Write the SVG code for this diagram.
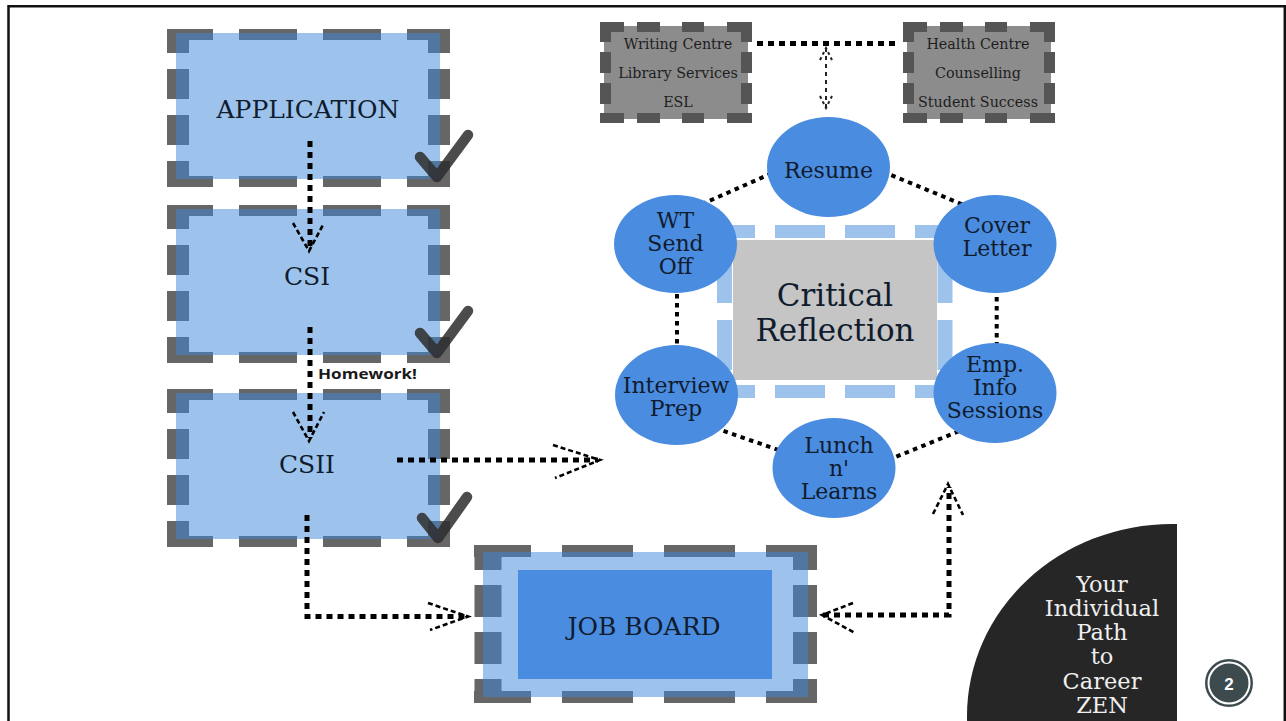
<svg xmlns="http://www.w3.org/2000/svg" width="1286" height="721" viewBox="0 0 1286 721">
<style>
.serif{font-family:"DejaVu Serif","Liberation Serif",serif;fill:#101c2e;text-anchor:middle}
.gtxt{font-family:"DejaVu Serif","Liberation Serif",serif;fill:#1e1e1e;text-anchor:middle;font-size:14.3px}
.dashg{stroke:#666666;fill:none}
.fillb{fill:#3b87d9;fill-opacity:0.5}
.gdash{stroke:#555555;fill:none}
.gfill{fill:#8c8c8c}
.circ{fill:#4a8ce0}
.ctext{font-size:22px}
.dot{stroke:#000;fill:none;stroke-width:5;stroke-dasharray:6 5}
.hdot{stroke:#000;fill:none;stroke-width:4;stroke-dasharray:4.5 4.5}
.head{stroke:#000;fill:none;stroke-width:2.6;stroke-dasharray:5 3}
.check{stroke:#2d2d2d;stroke-opacity:0.85;fill:none;stroke-width:10.5;stroke-linecap:round;stroke-linejoin:round}
.lbdash{stroke:#9dc3ec;fill:none}
.zen{font-family:"DejaVu Serif","Liberation Serif",serif;font-size:22.5px;fill:#efefef;text-anchor:middle}
</style>
<defs>
<clipPath id="clipR"><rect x="0" y="0" width="1177" height="721"/></clipPath>
</defs>
<rect width="1286" height="721" fill="#ffffff"/>
<path d="M8.5,721 V6.2 H1284.8 V721" fill="none" stroke="#111" stroke-width="2.5"/>

<g id="application">
<line class="dashg" x1="167" y1="34.5" x2="450" y2="34.5" stroke-width="11" stroke-dasharray="58 26" stroke-dashoffset="12"/>
<line class="dashg" x1="167" y1="181.5" x2="450" y2="181.5" stroke-width="11" stroke-dasharray="58 26" stroke-dashoffset="12"/>
<line class="dashg" x1="178" y1="29" x2="178" y2="187" stroke-width="22" stroke-dasharray="30 16" stroke-dashoffset="6"/>
<line class="dashg" x1="439" y1="29" x2="439" y2="187" stroke-width="22" stroke-dasharray="30 16" stroke-dashoffset="6"/>
<rect class="fillb" x="176" y="33" width="264" height="146"/>
<text class="serif" x="308" y="118" font-size="25">APPLICATION</text>
<polyline class="check" points="420,157 437,177 468,135"/>
</g>

<g id="csi">
<line class="dashg" x1="167" y1="210.5" x2="450" y2="210.5" stroke-width="11" stroke-dasharray="58 26" stroke-dashoffset="12"/>
<line class="dashg" x1="167" y1="357.5" x2="450" y2="357.5" stroke-width="11" stroke-dasharray="58 26" stroke-dashoffset="12"/>
<line class="dashg" x1="178" y1="205" x2="178" y2="363" stroke-width="22" stroke-dasharray="30 16" stroke-dashoffset="6"/>
<line class="dashg" x1="439" y1="205" x2="439" y2="363" stroke-width="22" stroke-dasharray="30 16" stroke-dashoffset="6"/>
<rect class="fillb" x="176" y="209" width="264" height="146"/>
<text class="serif" x="307" y="285" font-size="25">CSI</text>
<polyline class="check" points="420,333 437,353 468,311"/>
</g>

<g id="csii">
<line class="dashg" x1="167" y1="394.5" x2="450" y2="394.5" stroke-width="11" stroke-dasharray="58 26" stroke-dashoffset="12"/>
<line class="dashg" x1="167" y1="541.5" x2="450" y2="541.5" stroke-width="11" stroke-dasharray="58 26" stroke-dashoffset="12"/>
<line class="dashg" x1="178" y1="389" x2="178" y2="547" stroke-width="22" stroke-dasharray="30 16" stroke-dashoffset="6"/>
<line class="dashg" x1="439" y1="389" x2="439" y2="547" stroke-width="22" stroke-dasharray="30 16" stroke-dashoffset="6"/>
<rect class="fillb" x="176" y="393" width="264" height="146"/>
<text class="serif" x="307" y="473" font-size="25">CSII</text>
<polyline class="check" points="422,518 438,538 467,497"/>
</g>

<g id="job-board">
<line class="dashg" x1="474" y1="551" x2="817" y2="551" stroke-width="12" stroke-dasharray="71 31" stroke-dashoffset="14"/>
<line class="dashg" x1="474" y1="697" x2="817" y2="697" stroke-width="12" stroke-dasharray="71 31" stroke-dashoffset="14"/>
<line class="dashg" x1="488" y1="545" x2="488" y2="703" stroke-width="27" stroke-dasharray="32 15" stroke-dashoffset="7"/>
<line class="dashg" x1="805" y1="545" x2="805" y2="703" stroke-width="24" stroke-dasharray="32 15" stroke-dashoffset="7"/>
<rect class="fillb" x="483" y="552" width="325" height="145"/>
<rect x="518" y="570" width="254" height="109" fill="#4a8de0"/>
<text class="serif" x="644" y="635" font-size="25">JOB BOARD</text>
</g>

<g id="support-left">
<rect class="gfill" x="604" y="26" width="144" height="93"/>
<line class="gdash" x1="600" y1="27" x2="752" y2="27" stroke-width="10" stroke-dasharray="24 13 23 22 22 23 25"/>
<line class="gdash" x1="600" y1="118" x2="752" y2="118" stroke-width="10" stroke-dasharray="24 13 23 22 22 23 25"/>
<line class="gdash" x1="605.5" y1="22" x2="605.5" y2="123" stroke-width="11" stroke-dasharray="21 10" stroke-dashoffset="1"/>
<line class="gdash" x1="746.5" y1="22" x2="746.5" y2="123" stroke-width="11" stroke-dasharray="21 10" stroke-dashoffset="1"/>
<text class="gtxt" x="678" y="48.5">Writing Centre</text>
<text class="gtxt" x="678" y="78">Library Services</text>
<text class="gtxt" x="678" y="107">ESL</text>
</g>

<g id="support-right">
<rect class="gfill" x="907" y="26" width="144" height="93"/>
<line class="gdash" x1="903" y1="27" x2="1055" y2="27" stroke-width="10" stroke-dasharray="24 13 23 22 22 23 25"/>
<line class="gdash" x1="903" y1="118" x2="1055" y2="118" stroke-width="10" stroke-dasharray="24 13 23 22 22 23 25"/>
<line class="gdash" x1="908.5" y1="22" x2="908.5" y2="123" stroke-width="11" stroke-dasharray="21 10" stroke-dashoffset="1"/>
<line class="gdash" x1="1049.5" y1="22" x2="1049.5" y2="123" stroke-width="11" stroke-dasharray="21 10" stroke-dashoffset="1"/>
<text class="gtxt" x="978" y="48.5">Health Centre</text>
<text class="gtxt" x="978" y="78">Counselling</text>
<text class="gtxt" x="978" y="107">Student Success</text>
</g>

<g id="critical-reflection">
<line class="lbdash" x1="705" y1="231.5" x2="965" y2="231.5" stroke-width="13" stroke-dasharray="50 20"/>
<line class="lbdash" x1="705" y1="391.5" x2="965" y2="391.5" stroke-width="13" stroke-dasharray="50 20"/>
<line class="lbdash" x1="724.5" y1="236" x2="724.5" y2="386" stroke-width="15" stroke-dasharray="50 17" stroke-dashoffset="-17"/>
<line class="lbdash" x1="945" y1="236" x2="945" y2="386" stroke-width="15" stroke-dasharray="50 17" stroke-dashoffset="-17"/>
<rect x="733" y="240" width="204" height="140" fill="#c5c5c5"/>
<text class="serif" x="835" y="306" font-size="31">Critical</text>
<text class="serif" x="835" y="341" font-size="31">Reflection</text>
</g>

<g id="connectors">
<path class="dot" d="M310,141 V248"/>
<path class="head" d="M293,223 L309,251 L324,223"/>
<path class="dot" d="M310,327 V438"/>
<path class="head" d="M293,412 L309,441 L324,412"/>
<path class="dot" d="M307,515 V616.5 H466"/>
<path class="head" d="M428,603 L468,616.5 L430,630"/>
<path class="dot" d="M397,460 H598"/>
<path class="head" d="M553,445 L600,460 L555,478"/>
<path class="dot" d="M823,615 H949 V487"/>
<path class="head" d="M853,603 L822,615 L855,633"/>
<path class="head" d="M933,514 L948,484 L963,515"/>
<path class="dot" d="M757,43.5 H895" stroke-dasharray="7 4"/>
<path d="M826,48 V108" fill="none" stroke="#222" stroke-width="2" stroke-dasharray="4 4"/>
<path d="M820,60 L826,48 L832,60" fill="none" stroke="#222" stroke-width="2" stroke-dasharray="3 3"/>
<path d="M820,96 L826,108 L832,96" fill="none" stroke="#222" stroke-width="2" stroke-dasharray="3 3"/>
<path class="hdot" d="M771.7,173.3 L700,205"/>
<path class="hdot" d="M883,171.7 L968,206.7"/>
<path class="hdot" d="M996.7,288 V349"/>
<path class="hdot" d="M677,285 V349"/>
<path class="hdot" d="M715,428 L793,455"/>
<path class="hdot" d="M888,460 L962,430"/>
</g>

<g id="resume">
<ellipse class="circ" cx="828.5" cy="167" rx="61.5" ry="50"/>
<text class="serif ctext" x="828.5" y="178">Resume</text>
</g>
<g id="wt-send-off">
<ellipse class="circ" cx="675.5" cy="244" rx="61.5" ry="49"/>
<text class="serif ctext" x="675.5" y="228">WT</text>
<text class="serif ctext" x="675.5" y="251">Send</text>
<text class="serif ctext" x="675.5" y="274">Off</text>
</g>
<g id="cover-letter">
<ellipse class="circ" cx="995" cy="244" rx="61.5" ry="49"/>
<text class="serif ctext" x="997" y="233">Cover</text>
<text class="serif ctext" x="997" y="256">Letter</text>
</g>
<g id="emp-info-sessions">
<ellipse class="circ" cx="995" cy="393" rx="61.5" ry="50"/>
<text class="serif ctext" x="995" y="372">Emp.</text>
<text class="serif ctext" x="995" y="395">Info</text>
<text class="serif ctext" x="995" y="418">Sessions</text>
</g>
<g id="interview-prep">
<ellipse class="circ" cx="676.5" cy="395" rx="61.5" ry="50"/>
<text class="serif ctext" x="676" y="393">Interview</text>
<text class="serif ctext" x="676" y="416">Prep</text>
</g>
<g id="lunch-n-learns">
<ellipse class="circ" cx="834" cy="468" rx="61.5" ry="50"/>
<text class="serif ctext" x="839" y="453">Lunch</text>
<text class="serif ctext" x="839" y="476">n'</text>
<text class="serif ctext" x="839" y="499">Learns</text>
</g>

<g id="homework-label">
<text x="318" y="379" font-family="'Open Sans','Liberation Sans',sans-serif" font-weight="bold" font-size="14" fill="#1a1a1a" textLength="99" lengthAdjust="spacingAndGlyphs">Homework!</text>
</g>

<g id="career-zen">
<ellipse cx="1172" cy="716" rx="205" ry="192" fill="#262626" clip-path="url(#clipR)"/>
<text class="zen" x="1102" y="592">Your</text>
<text class="zen" x="1102" y="616">Individual</text>
<text class="zen" x="1102" y="640">Path</text>
<text class="zen" x="1102" y="664">to</text>
<text class="zen" x="1102" y="689">Career</text>
<text class="zen" x="1102" y="713">ZEN</text>
</g>

<g id="page-number">
<circle cx="1229" cy="683" r="24" fill="#3d4b4e"/>
<circle cx="1229" cy="683" r="20.5" fill="none" stroke="#ffffff" stroke-width="2"/>
<text x="1229" y="690" font-family="'Liberation Sans',Arial,sans-serif" font-weight="bold" font-size="17" fill="#ffffff" text-anchor="middle">2</text>
</g>
</svg>
